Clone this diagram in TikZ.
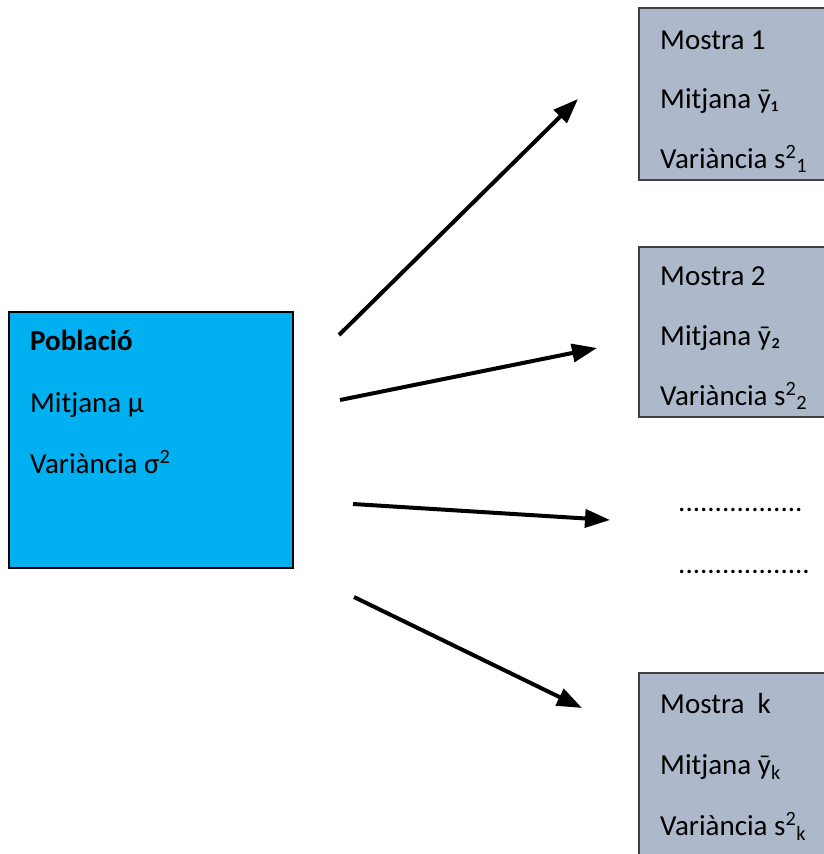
\documentclass[tikz,border=0pt]{standalone}
\usepackage{fontspec}
\setmainfont{Carlito}
\usetikzlibrary{arrows.meta}
\definecolor{popfill}{HTML}{00B0F0}
\definecolor{smpfill}{HTML}{ADB9CA}
\definecolor{edge}{HTML}{404040}
\tikzset{
  popbox/.style={draw=black, line width=1.5pt, fill=popfill},
  smpbox/.style={draw=edge, line width=1.5pt, fill=smpfill},
  txt/.style={anchor=base west, inner sep=0pt, font=\fontsize{29}{34}\selectfont},
  arr/.style={line width=4pt, -{Triangle[length=25pt,width=18pt]}},
}
\begin{document}
\begin{tikzpicture}[x=1pt,y=-1pt]
\useasboundingbox (0,0) rectangle (824,854);
\begin{scope}
\clip (0,0) rectangle (824,854);
% population
\draw[popbox] (9,312) rectangle (293,568);
\node[txt] (p1) at (30,350) {\textbf{Població}};
\node[txt] (p2) at (30,412) {Mitjana µ};
\node[txt] (p3) at (30,473) {Variància σ\textsuperscript{2}};
% samples
\draw[smpbox] (639,8) rectangle (840,180);
\node[txt] (a1) at (660,49) {Mostra 1};
\node[txt] (a2) at (660,108) {Mitjana ȳ₁};
\node[txt] (a3) at (660,168) {Variància s\textsuperscript{2}\textsubscript{1}};
\draw[smpbox] (639,247) rectangle (840,417);
\node[txt] (b1) at (660,285) {Mostra 2};
\node[txt] (b2) at (660,345) {Mitjana ȳ₂};
\node[txt] (b3) at (660,405) {Variància s\textsuperscript{2}\textsubscript{2}};
\draw[smpbox] (639,673) rectangle (840,870);
\node[txt] (k1) at (660,713) {Mostra\ \ k};
\node[txt] (k2) at (660,774) {Mitjana ȳ\textsubscript{k}};
\node[txt] (k3) at (660,835) {Variància s\textsuperscript{2}\textsubscript{k}};
% dots
\node[txt] (d1) at (678,511) {.................};
\node[txt] (d2) at (678,573) {..................};
% arrows
\coordinate (s1) at (339,335); \coordinate (e1) at (578,99);
\coordinate (s2) at (340,400); \coordinate (e2) at (597,348);
\coordinate (s3) at (353,504); \coordinate (e3) at (610,520);
\coordinate (s4) at (354,597); \coordinate (e4) at (582,708);
\draw[arr] (s1) -- (e1);
\draw[arr] (s2) -- (e2);
\draw[arr] (s3) -- (e3);
\draw[arr] (s4) -- (e4);
\end{scope}
\end{tikzpicture}
\end{document}
